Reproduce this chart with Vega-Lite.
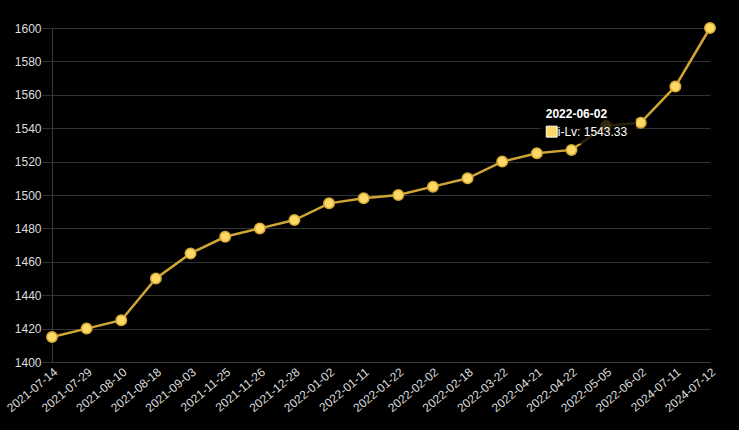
{
  "$schema": "https://vega.github.io/schema/vega-lite/v6.json",
  "autosize": {"type": "none"},
  "width": 658,
  "height": 334,
  "padding": {"left": 52, "top": 28, "right": 29, "bottom": 68},
  "background": "#000000",
  "config": {
    "view": {"stroke": null},
    "font": "Liberation Sans"
  },
  "data": {
    "values": [
      {"date": "2021-07-14", "value": 1415},
      {"date": "2021-07-29", "value": 1420},
      {"date": "2021-08-10", "value": 1425},
      {"date": "2021-08-18", "value": 1450},
      {"date": "2021-09-03", "value": 1465},
      {"date": "2021-11-25", "value": 1475},
      {"date": "2021-11-26", "value": 1480},
      {"date": "2021-12-28", "value": 1485},
      {"date": "2022-01-02", "value": 1495},
      {"date": "2022-01-11", "value": 1498},
      {"date": "2022-01-22", "value": 1500},
      {"date": "2022-02-02", "value": 1505},
      {"date": "2022-02-18", "value": 1510},
      {"date": "2022-03-22", "value": 1520},
      {"date": "2022-04-21", "value": 1525},
      {"date": "2022-04-22", "value": 1527},
      {"date": "2022-05-05", "value": 1541.5},
      {"date": "2022-06-02", "value": 1543.33},
      {"date": "2024-07-11", "value": 1565},
      {"date": "2024-07-12", "value": 1600}
    ]
  },
  "encoding": {
    "x": {
      "field": "date", "type": "ordinal", "sort": null,
      "scale": {"type": "point", "padding": 0},
      "axis": {
        "title": null, "labelAngle": -40, "labelAlign": "right", "labelBaseline": "top",
        "labelColor": "#dddddd", "labelFontSize": 12, "labelPadding": 4,
        "domainColor": "#3a3a3a", "tickColor": "#3a3a3a", "tickSize": 0, "grid": false
      }
    },
    "y": {
      "field": "value", "type": "quantitative",
      "scale": {"domain": [1400, 1600], "nice": false, "zero": false},
      "axis": {
        "title": null, "format": "d", "values": [1400, 1420, 1440, 1460, 1480, 1500, 1520, 1540, 1560, 1580, 1600],
        "labelColor": "#dddddd", "labelFontSize": 12, "labelPadding": 1,
        "gridColor": "#333333", "domainColor": "#3a3a3a", "tickColor": "#333333", "tickSize": 10
      }
    }
  },
  "layer": [
    {
      "mark": {"type": "line", "color": "#cfa536", "strokeWidth": 2.5}
    },
    {
      "mark": {"type": "point", "filled": true, "fill": "#ffd966", "stroke": "#d4a935", "strokeWidth": 1.5, "size": 110, "opacity": 1}
    },
    {
      "transform": [{"filter": "datum.date == '2022-06-02'"}],
      "mark": {
        "type": "point", "filled": true, "fill": "#000000", "opacity": 1, "fillOpacity": 0.8, "strokeWidth": 0,
        "shape": "M -2.1 -0.4 L -0.1 -0.4 L -0.1 0.44 L -2.1 0.44 Z", "size": 9216
      }
    },
    {
      "transform": [{"filter": "datum.date == '2022-06-02'"}],
      "mark": {"type": "text", "align": "left", "baseline": "middle", "dx": -95, "dy": -9, "fontWeight": "bold", "fontSize": 12, "color": "#ffffff"},
      "encoding": {"text": {"field": "date"}}
    },
    {
      "transform": [{"filter": "datum.date == '2022-06-02'"}],
      "mark": {"type": "point", "shape": "square", "filled": true, "fill": "#ffd966", "stroke": "#ffffff", "strokeWidth": 1, "size": 120, "opacity": 1, "xOffset": -89, "yOffset": 9}
    },
    {
      "transform": [
        {"filter": "datum.date == '2022-06-02'"},
        {"calculate": "'i-Lv: ' + format(datum.value, '.2f')", "as": "label"}
      ],
      "mark": {"type": "text", "align": "left", "baseline": "middle", "dx": -83, "dy": 9, "fontSize": 12, "color": "#ffffff"},
      "encoding": {"text": {"field": "label"}}
    }
  ]
}
